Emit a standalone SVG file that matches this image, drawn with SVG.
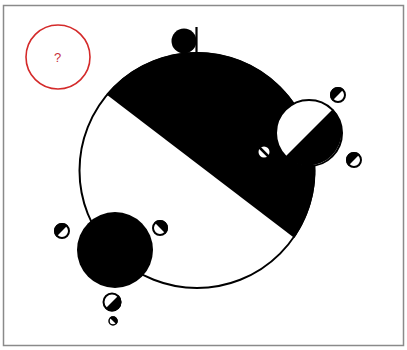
<svg xmlns="http://www.w3.org/2000/svg" xmlns:xlink="http://www.w3.org/1999/xlink" width="407" height="350" viewBox="0 0 407 350">
<style>
.o{fill:#fff;stroke:#000;stroke-width:2}
.b{fill:#000}
.q{fill:#fff;stroke:#d42a2a;stroke-width:1.6}
.t{font-family:"Liberation Sans",Arial,sans-serif;font-size:13px;fill:#c8323c;text-anchor:middle}
</style>
<defs>
<g id="sd"><circle r="7" class="o"/><path class="b" d="M-8,0 A8,8 0 0 1 8,0 Z"/></g>
</defs>
<rect x="3.5" y="5.5" width="400" height="340" fill="#fff" stroke="#8a8a8a" stroke-width="1.5"/>
<g id="frame-q">
<circle cx="58" cy="57" r="32" class="q"/>
<text x="57.5" y="62" class="t">?</text>
</g>
<g id="connectors">
<line x1="196.5" y1="27" x2="196.5" y2="54" stroke="#000" stroke-width="2.2"/>
</g>
<g id="top-ball"><circle cx="184" cy="41" r="12.5" class="b"/></g>
<g id="main">
<circle cx="197" cy="170.5" r="117.5" class="o"/>
<path class="b" d="M106.2,94.3 A118.5,118.5 0 0 1 294.4,237.9 Z"/>
</g>
<g id="right">
<circle cx="309" cy="133" r="33" class="o"/>
<path class="b" d="M333,109 A34,34 0 0 1 285,157 Z"/>
</g>
<g id="left"><circle cx="115" cy="250" r="38" class="b"/></g>
<g id="s1"><use xlink:href="#sd" transform="translate(338,95) rotate(-45)"/></g>
<g id="s2"><use xlink:href="#sd" transform="translate(354,160) rotate(-45)"/></g>
<g id="s3"><circle cx="264" cy="152" r="6.5" class="o"/><line x1="259.5" y1="147.5" x2="268.5" y2="156.5" stroke="#000" stroke-width="2.5"/></g>
<g id="s4"><use xlink:href="#sd" transform="translate(62,231) rotate(-45)"/></g>
<g id="s5"><use xlink:href="#sd" transform="translate(160,228) rotate(45)"/></g>
<g id="s6"><circle cx="112" cy="302" r="8.5" class="o"/><path class="b" transform="translate(112,302) rotate(135)" d="M-9.5,0 A9.5,9.5 0 0 1 9.5,0 Z"/></g>
<g id="s7"><circle cx="113" cy="321" r="4" fill="#fff" stroke="#000" stroke-width="1.5"/><path class="b" transform="translate(113,321) rotate(45)" d="M-4.75,0 A4.75,4.75 0 0 1 4.75,0 Z"/></g>
</svg>
